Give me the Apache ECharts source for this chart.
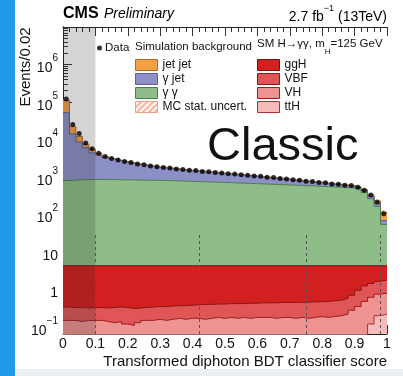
<!DOCTYPE html>
<html><head><meta charset="utf-8">
<script src="https://cdn.jsdelivr.net/npm/echarts@6/dist/echarts.min.js"></script>
<style>html,body{margin:0;padding:0;background:#fff}#c{width:403px;height:376px}</style>
</head><body><div id="c"></div>
<script>
// ---- data (events per 0.02 bin, 50 bins from 0 to 1) ----
const binWidth = 0.02;
const dataCounts = [120000,25000,14500,8100,5700,4300,3500,3100,2820,2600,2420,2230,2120,1970,1890,1790,1730,1640,1590,1510,1480,1410,1380,1310,1280,1220,1200,1140,1120,1060,1040,985,970,915,890,845,820,775,760,715,700,655,645,605,590,530,445,330,215,105];
const jetJet = [58000,8000,3500,1500,1200,500,150,130,120,110,100,95,90,85,80,75,72,70,68,66,64,62,60,58,56,54,52,50,48,46,45,44,43,42,40,38,36,34,32,30,28,26,25,24,22,20,20,25,30,45];
const gammaJet = [51200,13180,7660,5150,3540,2950,2500,2120,1840,1650,1470,1330,1190,1080,990,925,858,800,742,694,656,618,580,542,504,476,448,420,392,364,335,306,287,258,230,212,184,166,148,130,112,94,85,71,58,50,50,45,30,15];
const gammaGamma = [800,820,840,850,860,850,850,845,840,835,830,825,820,815,810,800,790,780,770,760,750,740,730,720,710,700,690,680,670,660,650,640,630,620,610,600,590,580,570,560,550,540,530,515,500,470,380,260,160,50];
const ggH = [3.96,3.97,3.97,3.98,3.97,3.97,3.98,3.97,3.96,3.97,3.99,3.98,3.97,3.96,3.95,3.95,3.94,3.93,3.93,3.92,3.91,3.9,3.9,3.89,3.89,3.88,3.88,3.88,3.87,3.87,3.86,3.86,3.86,3.85,3.85,3.85,3.84,3.84,3.83,3.83,3.82,3.8,3.78,3.72,3.6,3.35,3.05,2.85,2.65,2.5];
const VBF = [0.19,0.18,0.19,0.17,0.18,0.18,0.18,0.2,0.2,0.21,0.2,0.19,0.18,0.19,0.19,0.2,0.2,0.2,0.21,0.21,0.22,0.24,0.23,0.23,0.24,0.24,0.25,0.24,0.26,0.25,0.26,0.26,0.27,0.27,0.27,0.28,0.28,0.29,0.29,0.28,0.3,0.31,0.32,0.36,0.42,0.6,0.77,0.83,0.9,1.0];
const VH = [0.13,0.13,0.12,0.13,0.13,0.13,0.12,0.11,0.12,0.1,0.09,0.11,0.13,0.13,0.14,0.13,0.14,0.15,0.14,0.15,0.15,0.14,0.15,0.16,0.15,0.16,0.15,0.16,0.15,0.16,0.16,0.16,0.15,0.16,0.16,0.15,0.16,0.15,0.16,0.17,0.16,0.17,0.18,0.2,0.26,0.33,0.43,0.5,0.55,0.58];
const ttH = [0.02,0.02,0.02,0.02,0.02,0.02,0.02,0.02,0.02,0.02,0.02,0.02,0.02,0.02,0.02,0.02,0.02,0.02,0.02,0.02,0.02,0.02,0.02,0.02,0.02,0.02,0.02,0.02,0.02,0.02,0.02,0.02,0.02,0.02,0.02,0.02,0.02,0.02,0.02,0.02,0.02,0.02,0.02,0.02,0.02,0.02,0.05,0.12,0.2,0.22];
const mcStatUnc = [8000,2000,1000,500,350,250,100,90,80,75,70,65,60,58,55,52,50,48,46,45,44,42,41,40,38,37,36,35,34,33,32,31,30,29,28,27,26,25,24,23,23,22,22,21,21,22,22,20,18,15];
const xTickValues = [0,0.1,0.2,0.3,0.4,0.5,0.6,0.7,0.8,0.9,1];
const yMin = 0.065, yMax = 1e7;
const categoryBoundaries = [0.1, 0.42, 0.75, 0.98];
const boundaryTop = 30;
const excludedRegion = [0, 0.1];

// ---- helpers ----
const nBins = dataCounts.length;
function stepData(arr){ const p = arr.map((v,i)=>[i*binWidth, v]); p.push([nBins*binWidth, arr[nBins-1]]); return p; }
// stack order bottom -> top
const layers = [
  {name:'ttH', vals:ttH, fill:'#f6bcbc', line:'#a33'},
  {name:'VH', vals:VH, fill:'#ef9292', line:'#9a2020'},
  {name:'VBF', vals:VBF, fill:'#e05656', line:'#8c1515'},
  {name:'ggH', vals:ggH, fill:'#d21f1f', line:'#7a1010'},
  {name:'\u03b3 \u03b3', vals:gammaGamma, fill:'#8fbd89', line:'#4f7d4c'},
  {name:'\u03b3 jet', vals:gammaJet, fill:'#8c90c6', line:'#5a5e98'},
  {name:'jet jet', vals:jetJet, fill:'#f2a144', line:'#b06a20'}
];
let run = new Array(nBins).fill(0);
layers.forEach(L=>{ run = run.map((r,i)=>r+L.vals[i]); L.cum = run.slice(); });
const totalMC = run;
const uncUpper = totalMC.map((t,i)=>t+mcStatUnc[i]);

function hatch(){
  const c=document.createElement('canvas'); c.width=6; c.height=6;
  const g=c.getContext('2d'); g.fillStyle='rgba(255,235,225,0.5)'; g.fillRect(0,0,6,6);
  g.strokeStyle='#ee7f5c'; g.lineWidth=1.1; g.beginPath();
  g.moveTo(0,6); g.lineTo(6,0); g.moveTo(-1,1); g.lineTo(1,-1); g.moveTo(5,7); g.lineTo(7,5); g.stroke();
  return {image:c, repeat:'repeat'};
}
const hatchPattern = hatch();
const FONT = '"Liberation Sans", Arial, sans-serif';
function areaSeries(name, cum, fill, line, z){
  return {name, type:'line', step:'end', data:stepData(cum), symbol:'none', showSymbol:false,
    lineStyle:{color:line, width:1}, areaStyle:{color:fill, opacity:1, origin:'start'},
    itemStyle:{color:fill, borderColor:line, borderWidth:1}, emphasis:{disabled:true}, z:z, silent:true};
}
const mcSeries = [];
mcSeries.push({name:'MC stat. uncert.', type:'line', step:'end', data:stepData(uncUpper), symbol:'none',
  lineStyle:{width:0, opacity:0}, areaStyle:{color:hatchPattern, opacity:1, origin:'start'},
  itemStyle:{color:hatchPattern, borderColor:'#f0a08a', borderWidth:1}, silent:true, z:2});
layers.slice().reverse().forEach(L=>mcSeries.push(areaSeries(L.name, L.cum, L.fill, L.line, 2)));

const chart = echarts.init(document.getElementById('c'), null, {renderer:'canvas'});
chart.setOption({
  animation:false,
  textStyle:{fontFamily:FONT},
  grid:{left:63, right:16, top:27, bottom:42, containLabel:false, outerBoundsMode:'none'},
  xAxis:[{
    type:'value', min:0, max:1, interval:0.1, position:'bottom',
    axisLine:{show:true, lineStyle:{color:'#222', width:1}},
    axisTick:{show:true, inside:true, length:9, lineStyle:{color:'#333'}},
    minorTick:{show:true, splitNumber:5, length:5, lineStyle:{color:'#333'}},
    splitLine:{show:false},
    axisLabel:{fontSize:14, color:'#111', fontFamily:FONT, margin:3,
      formatter:v=>{ const t = xTickValues.find(x=>Math.abs(x-v)<1e-9); return t===undefined?'':String(t); }}
  },{
    type:'value', min:0, max:1, interval:0.1, position:'top',
    axisLine:{show:true, lineStyle:{color:'#222'}},
    axisTick:{show:true, inside:true, length:9, lineStyle:{color:'#333'}},
    minorTick:{show:true, splitNumber:5, length:5, lineStyle:{color:'#333'}},
    splitLine:{show:false}, axisLabel:{show:false}
  }],
  yAxis:[{
    type:'log', logBase:10, min:yMin, max:yMax, splitNumber:10, position:'left',
    axisLine:{show:true, lineStyle:{color:'#222'}},
    axisTick:{show:true, inside:true, length:9, lineStyle:{color:'#333'}},
    minorTick:{show:true, splitNumber:9, length:5, lineStyle:{color:'#333'}},
    splitLine:{show:false},
    axisLabel:{margin:5, color:'#111', showMinLabel:false, showMaxLabel:false,
      formatter:v=>{ const l=Math.log10(v), p=Math.round(l); if(Math.abs(l-p)>1e-6||p>6||p<-1) return '';
        if(p===0) return '{b|1}'; if(p===1) return '{b|10}'; return '{b|10}{s|'+(p<0?'\u2212'+(-p):p)+'}'; },
      rich:{b:{fontSize:14, lineHeight:22, verticalAlign:'bottom', fontFamily:FONT, color:'#111'},
            s:{fontSize:10, verticalAlign:'top', fontFamily:FONT, color:'#111'}}}
  },{
    type:'log', logBase:10, min:yMin, max:yMax, position:'right',
    axisLine:{show:true, lineStyle:{color:'#222'}}, axisTick:{show:false}, axisLabel:{show:false}, splitLine:{show:false}
  }],
  legend:[
    {data:[{name:'Data', icon:'circle'}], left:97, top:42, orient:'horizontal', itemWidth:5, itemHeight:5, padding:0,
     selectedMode:false, textStyle:{fontSize:11.5, color:'#111', fontFamily:FONT, padding:[0,0,0,-2]}},
    {data:['jet jet','\u03b3 jet','\u03b3 \u03b3','MC stat. uncert.'], left:135, top:59, orient:'vertical', icon:'rect',
     itemWidth:22, itemHeight:11, itemGap:2, padding:0, selectedMode:false,
     itemStyle:{borderWidth:1}, textStyle:{fontSize:12, color:'#111', fontFamily:FONT}},
    {data:['ggH','VBF','VH','ttH'], left:257, top:59, orient:'vertical', icon:'rect',
     itemWidth:22, itemHeight:11, itemGap:2, padding:0, selectedMode:false,
     itemStyle:{borderWidth:1}, textStyle:{fontSize:12, color:'#111', fontFamily:FONT}}
  ],
  series: mcSeries.concat([
    {name:'regions', type:'line', data:[], silent:true, z:9,
     markArea:{z:9, silent:true, itemStyle:{color:'rgba(40,40,40,0.2)'}, data:[[{xAxis:excludedRegion[0]},{xAxis:excludedRegion[1]}]]},
     markLine:{z:9, silent:true, symbol:['none','none'], label:{show:false}, lineStyle:{type:[3,3], color:'#555', width:1},
       data:categoryBoundaries.map(b=>[{coord:[b, yMin]},{coord:[b, boundaryTop]}])}},
    {name:'Data', type:'scatter', data:dataCounts.map((v,i)=>[(i+0.5)*binWidth, v]), symbolSize:5,
     itemStyle:{color:'#000'}, z:12, silent:true}
  ]),
  graphic:[
    {type:'rect', left:0, top:0, shape:{width:15, height:376}, style:{fill:'#1e9ae8'}, silent:true},
    {type:'rect', left:15, top:369, shape:{width:388, height:7}, style:{fill:'#eceff3'}, silent:true},
    {type:'text', x:63, y:14, style:{text:'CMS', font:'bold 16px '+FONT, fill:'#000', verticalAlign:'middle'}},
    {type:'text', x:104, y:14, style:{text:'Preliminary', font:'italic 14px '+FONT, fill:'#000', verticalAlign:'middle'}},
    {type:'text', x:387, y:14, style:{text:'{a|2.7 fb}{s|\u22121}{a| (13TeV)}', align:'right', verticalAlign:'middle',
      rich:{a:{fontSize:14, fontFamily:FONT, lineHeight:20, verticalAlign:'bottom', fill:'#000'}, s:{fontSize:9, fontFamily:FONT, verticalAlign:'top', fill:'#000'}}}},
    {type:'text', x:26, y:67, rotation:Math.PI/2, style:{text:'Events/0.02', font:'15px '+FONT, fill:'#111', align:'center', verticalAlign:'middle'}},
    {type:'text', x:387, y:362, style:{text:'Transformed diphoton BDT classifier score', font:'15px '+FONT, fill:'#111', align:'right', verticalAlign:'middle'}},
    {type:'text', x:135, y:47, style:{text:'Simulation background', font:'11.5px '+FONT, fill:'#111', verticalAlign:'middle'}},
    {type:'text', x:257, y:47, style:{text:'{n|SM H\u2192\u03b3\u03b3, m}{b|H}{n|=125 GeV}', verticalAlign:'middle',
      rich:{n:{fontSize:11.5, fontFamily:FONT, lineHeight:18, verticalAlign:'top', fill:'#111'}, b:{fontSize:8, fontFamily:FONT, verticalAlign:'bottom', fill:'#111'}}}},
    {type:'text', x:207, y:147, style:{text:'Classic', font:'47px '+FONT, fill:'#111', verticalAlign:'middle'}}
  ]
});
</script></body></html>
